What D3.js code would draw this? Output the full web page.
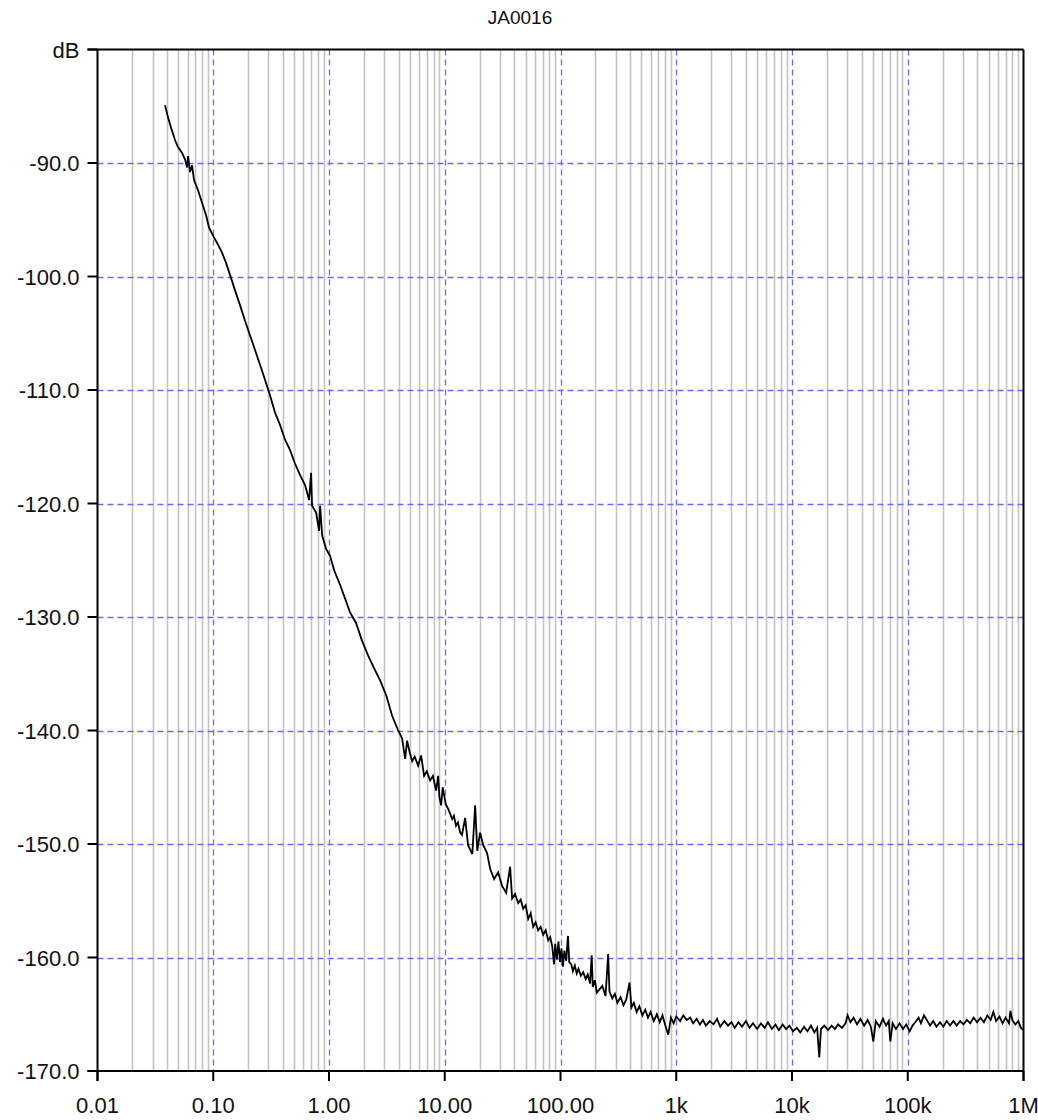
<!DOCTYPE html>
<html lang="en">
<head>
<meta charset="utf-8">
<title>JA0016</title>
<script src="https://d3js.org/d3.v7.min.js"></script>
<style>
  body { margin: 0; background: #fff; }
  svg { display: block; }
  .lbl { font-family: "Liberation Sans", Arial, sans-serif; font-size: 22px; fill: #111; }
  .title { font-family: "Liberation Sans", Arial, sans-serif; font-size: 19px; fill: #111; }
</style>
</head>
<body>
<div id="chart"></div>
<script>
// x labels at each decade
var xTicks = [0.01, 0.1, 1, 10, 100, 1e3, 1e4, 1e5, 1e6];
var xTickLabels = ["0.01", "0.10", "1.00", "10.00", "100.00", "1k", "10k", "100k", "1M"];
var yTicks = [-80, -90, -100, -110, -120, -130, -140, -150, -160, -170];
var yTickLabels = ["dB", "-90.0", "-100.0", "-110.0", "-120.0", "-130.0", "-140.0", "-150.0", "-160.0", "-170.0"];

// noise spectrum (Hz, dB)
var freqs = [
  0.0383, 0.0407, 0.0432, 0.0468, 0.0496, 0.0537, 0.0571, 0.0594, 0.0606, 0.0630,
  0.0656, 0.0682, 0.0739, 0.0800, 0.0867, 0.0920, 0.0996, 0.110, 0.119, 0.129,
  0.140, 0.154, 0.170, 0.188, 0.208, 0.230, 0.254, 0.280, 0.310, 0.342,
  0.378, 0.418, 0.461, 0.509, 0.563, 0.622, 0.673, 0.700, 0.714, 0.774,
  0.821, 0.838, 0.872, 0.944, 1.02, 1.11, 1.25, 1.38, 1.52, 1.71,
  1.93, 2.18, 2.45, 2.77, 3.12, 3.51, 3.96, 4.28, 4.55, 4.73,
  5.0, 5.23, 5.5, 5.89, 6.25, 6.63, 7.0, 7.48, 7.9, 8.42,
  8.77, 9.0, 9.31, 9.6, 9.88, 10.2, 10.7, 11.1, 11.6, 12.0,
  12.5, 13.0, 13.6, 14.1, 15.0, 15.9, 17.3, 18.3, 19.1, 20.2,
  21.5, 23.2, 24.7, 26.7, 28.9, 31.3, 33.9, 36.7, 38.2, 40.5,
  43.1, 45.3, 47.6, 50.0, 52.6, 55.3, 58.1, 61.0, 64.1, 67.4,
  70.9, 74.5, 78.3, 81.5, 84.8,
  88, 90, 93, 96, 99, 102, 105, 108, 112, 116,
  119, 124, 128, 133, 138, 143, 150, 157, 165, 172,
  180, 186, 190, 198, 206, 230, 245, 258, 265, 280,
  295, 310, 330, 350, 370, 395, 410, 430, 455, 480,
  510, 540, 570, 600, 640, 680, 720, 760, 800, 853,
  900, 950,
  1000, 1080, 1150, 1230, 1320, 1400, 1500, 1600, 1700, 1800,
  1950, 2100, 2250, 2400, 2600, 2800, 3000, 3200, 3450, 3700,
  4000, 4300, 4600, 5000, 5400, 5800, 6200, 6700, 7200, 7700,
  8300, 8900, 9500, 10200, 11000, 11800, 12700, 13600, 14600, 15600,
  16500, 17200, 17800, 19000, 20500, 22000, 23500, 25000, 27000, 29000,
  30200, 32000, 34000, 36500, 39000, 42000, 45000, 48000, 50400, 53000,
  57000, 61000, 65000, 68500, 70700, 74000, 79000, 85000, 91000, 97000,
  104000, 110000, 116000, 124000, 130000, 138000, 146000, 156000, 166000, 177000,
  190000, 203000, 217000, 232000, 248000, 265000, 283000, 303000, 324000, 347000,
  371000, 397000, 425000, 455000, 487000, 520000, 549000, 580000, 620000, 660000,
  700000, 750000, 771000, 800000, 850000, 900000, 950000, 1000000
];
var levels = [
  -84.9, -86.0, -86.9, -88.0, -88.6, -89.1, -89.7, -90.4, -89.4, -90.8,
  -90.2, -91.5, -92.4, -93.5, -94.6, -95.7, -96.4, -97.2, -97.9, -98.8,
  -99.9, -101.2, -102.5, -103.9, -105.2, -106.5, -107.8, -109.1, -110.5, -112.0,
  -113.1, -114.4, -115.3, -116.5, -117.5, -118.4, -119.7, -117.3, -120.2, -120.8,
  -122.4, -120.2, -122.8, -124.0, -124.6, -125.9, -127.2, -128.4, -129.6, -130.5,
  -132.1, -133.4, -134.5, -135.6, -136.9, -138.7, -140.0, -140.7, -142.5, -140.9,
  -142.0, -142.7, -142.3, -143.1, -142.2, -144.0, -143.6, -144.4, -144.0, -145.3,
  -144.0, -145.9, -146.6, -145.0, -145.7, -146.5, -146.9, -147.3, -147.8, -147.5,
  -148.4, -148.1, -149.0, -149.2, -147.7, -150.1, -150.9, -146.6, -150.6, -149.0,
  -150.1, -150.8, -152.2, -153.1, -152.5, -153.7, -154.3, -152.0, -154.8, -154.4,
  -155.2, -154.9, -155.7, -155.4, -156.6, -156.1, -157.3, -156.9, -157.6, -157.3,
  -158.0, -157.6, -158.5, -158.2, -159.0,
  -160.6, -158.8, -160.2, -158.6, -160.4, -159.2, -160.8, -159.4, -160.3, -158.1,
  -160.4, -160.6, -161.2, -160.7, -161.4, -161.0, -161.6, -161.3, -161.9, -161.5,
  -162.3, -159.8, -162.6, -162.0, -163.1, -162.5, -163.4, -159.7, -163.0, -163.6,
  -163.2, -164.0, -163.5, -164.2, -163.7, -162.2, -164.4, -164.0, -164.8, -164.3,
  -165.1, -164.6, -165.3, -164.8, -165.6, -165.0, -165.7, -165.1, -165.9, -166.8,
  -165.3, -165.8,
  -165.2, -165.6, -165.1, -165.5, -165.3, -165.8, -165.4, -165.9, -165.5, -166.0,
  -165.6, -165.9, -165.4, -166.1, -165.6, -166.0, -165.7, -166.2, -165.7, -166.1,
  -165.6, -166.2, -165.8, -166.3, -165.8, -166.2, -165.7, -166.3, -165.9, -166.4,
  -165.9, -166.3, -166.0, -166.5, -166.2, -166.6, -166.1, -166.5, -166.0, -166.6,
  -166.2, -168.8, -166.3, -166.0, -166.4, -166.0, -166.3, -165.9, -166.2, -165.8,
  -165.1, -165.7, -165.3, -165.9, -165.4, -166.0, -165.5, -166.1, -167.4, -165.6,
  -166.1, -165.4, -166.0, -165.6, -167.4, -165.8, -166.3, -165.8, -166.3, -165.9,
  -166.5, -166.0, -165.7, -165.3, -165.8, -165.1, -165.5, -166.0, -165.6, -166.1,
  -165.7, -166.1, -165.6, -166.0, -165.6, -166.0, -165.6, -165.9, -165.5, -165.8,
  -165.3, -165.7, -165.3, -165.7, -165.1, -165.5, -164.8, -165.6, -165.2, -165.8,
  -165.3, -165.8, -164.7, -165.5, -165.9, -165.6, -166.2, -166.4
];

var W = 1038, H = 1120;
var plotL = 97.5, plotR = 1023.5, plotT = 49.5, plotB = 1071;

var svg = d3.select("#chart").append("svg")
  .attr("width", W)
  .attr("height", H);

var x = d3.scaleLog().domain([0.01, 1e6]).range([plotL, plotR]);
var y = d3.scaleLinear().domain([-170, -80]).range([plotB, plotT]);

// minor vertical grid (2..9 in each decade)
var minor = [];
xTicks.slice(0, -1).forEach(function(d) {
  for (var k = 2; k <= 9; k++) minor.push(d * k);
});
svg.append("g").selectAll("line")
  .data(minor)
  .enter().append("line")
  .attr("x1", function(d) { return Math.round(x(d)) + 0.5; })
  .attr("x2", function(d) { return Math.round(x(d)) + 0.5; })
  .attr("y1", plotT).attr("y2", plotB)
  .attr("stroke", "#c4c4c4")
  .attr("stroke-width", 1.6);

// major vertical dashed grid
svg.append("g").selectAll("line")
  .data(xTicks.slice(1, -1))
  .enter().append("line")
  .attr("x1", function(d) { return Math.round(x(d)) + 0.5; })
  .attr("x2", function(d) { return Math.round(x(d)) + 0.5; })
  .attr("y1", plotT).attr("y2", plotB)
  .attr("stroke", "#6a6aff")
  .attr("stroke-width", 1.3)
  .attr("stroke-dasharray", "6,4");

// horizontal dashed grid
svg.append("g").selectAll("line")
  .data(yTicks.slice(1, -1))
  .enter().append("line")
  .attr("x1", plotL).attr("x2", plotR)
  .attr("y1", function(d) { return Math.round(y(d)) + 0.5; })
  .attr("y2", function(d) { return Math.round(y(d)) + 0.5; })
  .attr("stroke", "#6a6aff")
  .attr("stroke-width", 1.3)
  .attr("stroke-dasharray", "6,4");

// the trace
var pts = freqs.map(function(f, i) { return [f, levels[i]]; });
svg.append("path")
  .datum(pts)
  .attr("fill", "none")
  .attr("stroke", "#000")
  .attr("stroke-width", 1.8)
  .attr("stroke-linejoin", "miter")
  .attr("d", d3.line()
    .x(function(d) { return x(d[0]); })
    .y(function(d) { return y(d[1]); }));

// frame: left axis, bottom axis, top and right borders
var frame = svg.append("g").attr("stroke", "#000").attr("stroke-width", 2);
frame.append("line").attr("x1", plotL).attr("x2", plotL).attr("y1", plotT).attr("y2", plotB + 10);
frame.append("line").attr("x1", plotL - 10).attr("x2", plotR).attr("y1", plotB).attr("y2", plotB);
frame.append("line").attr("x1", plotL - 10).attr("x2", plotR).attr("y1", plotT).attr("y2", plotT);
frame.append("line").attr("x1", plotR).attr("x2", plotR).attr("y1", plotT).attr("y2", plotB + 10);

// y ticks and labels
svg.append("g").selectAll("line")
  .data(yTicks)
  .enter().append("line")
  .attr("x1", plotL - 10).attr("x2", plotL)
  .attr("y1", function(d) { return y(d); })
  .attr("y2", function(d) { return y(d); })
  .attr("stroke", "#000")
  .attr("stroke-width", 2);

svg.append("g").selectAll("text")
  .data(yTicks)
  .enter().append("text")
  .attr("class", "lbl")
  .attr("x", plotL - 18)
  .attr("y", function(d) { return y(d) + 8; })
  .attr("text-anchor", "end")
  .text(function(d, i) { return yTickLabels[i]; });

// x ticks and labels
svg.append("g").selectAll("line")
  .data(xTicks)
  .enter().append("line")
  .attr("x1", function(d) { return x(d); })
  .attr("x2", function(d) { return x(d); })
  .attr("y1", plotB).attr("y2", plotB + 10)
  .attr("stroke", "#000")
  .attr("stroke-width", 2);

svg.append("g").selectAll("text")
  .data(xTicks)
  .enter().append("text")
  .attr("class", "lbl")
  .attr("x", function(d) { return x(d); })
  .attr("y", plotB + 42)
  .attr("text-anchor", "middle")
  .text(function(d, i) { return xTickLabels[i]; });

svg.append("text")
  .attr("class", "title")
  .attr("x", 520)
  .attr("y", 24)
  .attr("text-anchor", "middle")
  .text("JA0016");
</script>
</body>
</html>
